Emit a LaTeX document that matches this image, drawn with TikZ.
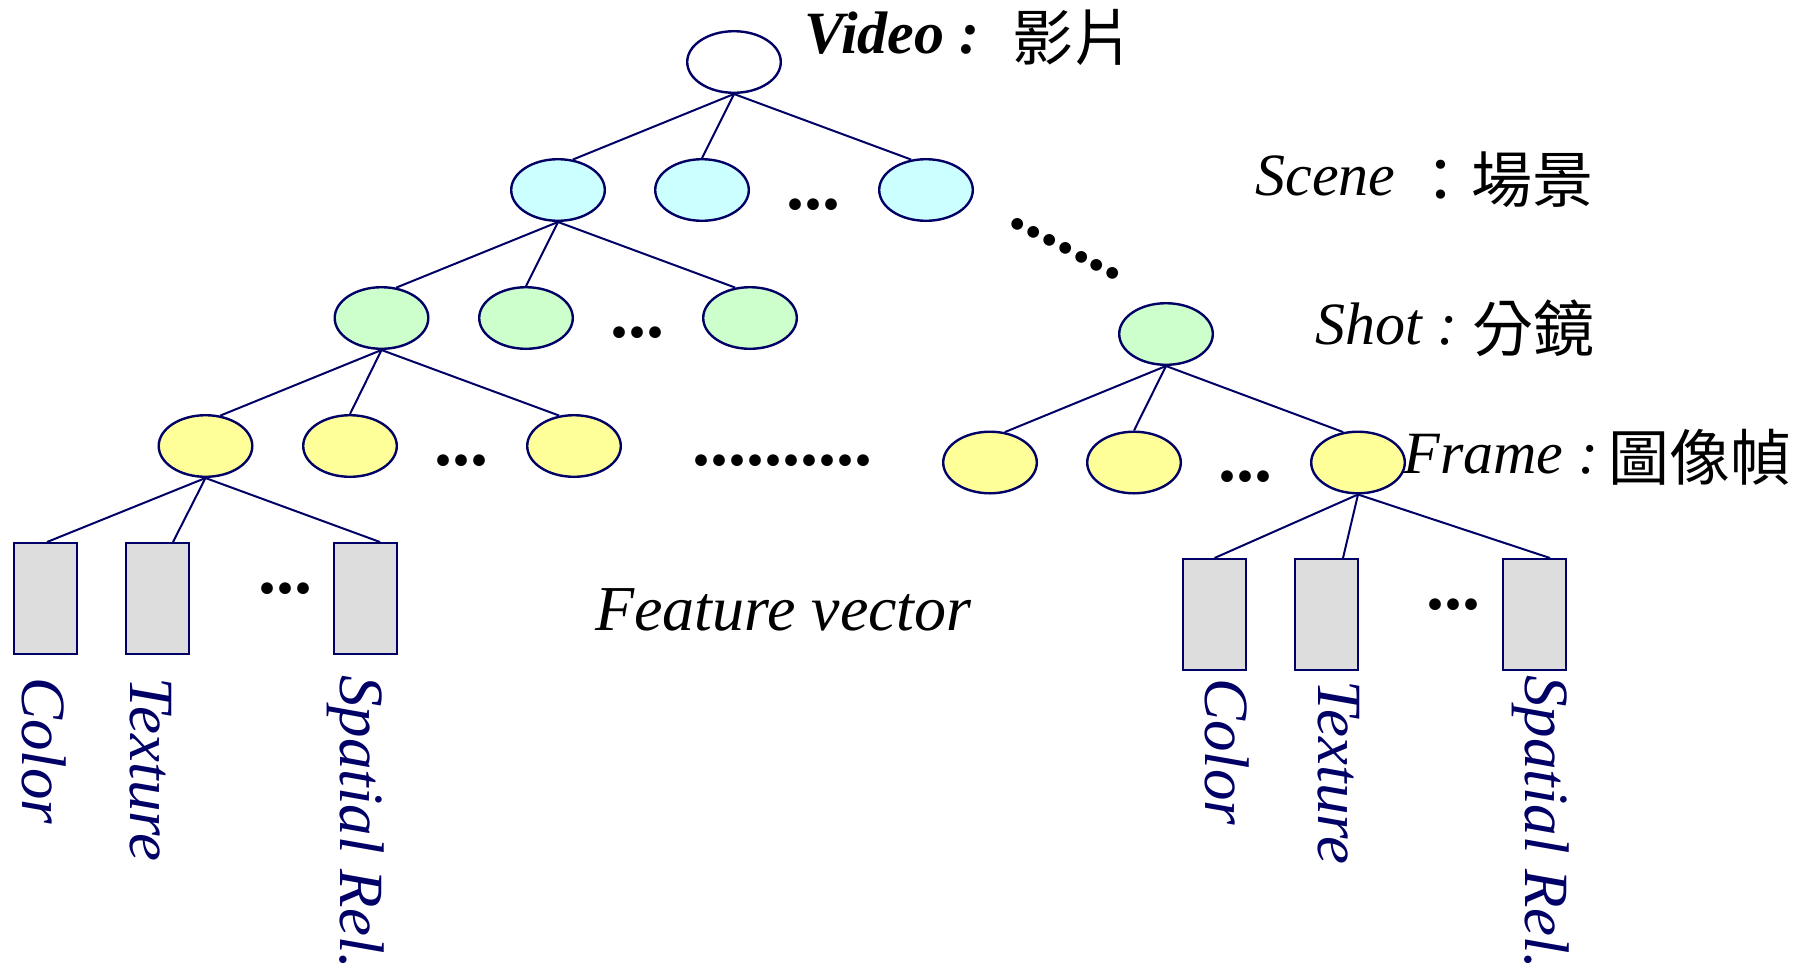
\documentclass[tikz,border=0pt]{standalone}
\usepackage{fontspec}
\setmainfont{Liberation Serif}
\newfontfamily\cjkfont{Noto Sans CJK TC}
\newcommand{\cjktext}[1]{\raisebox{-3.5pt}{\cjkfont\fontsize{30.5}{36}\selectfont #1}}
\usetikzlibrary{shapes.geometric}
\definecolor{lnavy}{RGB}{0,0,102}
\definecolor{scenec}{RGB}{204,255,255}
\definecolor{shotc}{RGB}{204,255,204}
\definecolor{framec}{RGB}{255,255,153}
\definecolor{boxc}{RGB}{221,221,221}
\begin{document}
\begin{tikzpicture}[x=0.5pt,y=-0.5pt,
  ell/.style={ellipse, draw=lnavy, line width=1.2pt, minimum width=46.8pt, minimum height=30.8pt, inner sep=0pt},
  fbox/.style={rectangle, draw=lnavy, line width=1pt, fill=boxc, minimum width=31.5pt, minimum height=55.5pt, inner sep=0pt},
  edge/.style={draw=lnavy, line width=1pt},
  lbl/.style={anchor=base west, inner sep=0pt, font=\fontsize{30}{36}\selectfont},
  rlbl/.style={rotate=-90, anchor=base west, inner sep=0pt, text=lnavy, font=\fontsize{31.5}{36}\selectfont\itshape},
  dots/.style={anchor=base, inner sep=0pt, font=\fontsize{36}{36}\selectfont\bfseries}
]
\useasboundingbox (0,0) rectangle (1807,970);

% ellipses
\node[ell, fill=white] (v) at (734,62) {};
\node[ell, fill=scenec] (s1) at (558,190) {};
\node[ell, fill=scenec] (s2) at (702,190) {};
\node[ell, fill=scenec] (s3) at (926,190) {};
\node[ell, fill=shotc] (h1) at (381.5,318) {};
\node[ell, fill=shotc] (h2) at (526,318) {};
\node[ell, fill=shotc] (h3) at (750,318) {};
\node[ell, fill=shotc] (h4) at (1166,334) {};
\node[ell, fill=framec] (f1) at (205.5,446) {};
\node[ell, fill=framec] (f2) at (350,446) {};
\node[ell, fill=framec] (f3) at (574,446) {};
\node[ell, fill=framec] (g1) at (990,462.5) {};
\node[ell, fill=framec] (g2) at (1134,462.5) {};
\node[ell, fill=framec] (g3) at (1358,462.5) {};

% feature boxes
\node[fbox] (b1) at (45.5,598.5) {};
\node[fbox] (b2) at (157.5,598.5) {};
\node[fbox] (b3) at (365.5,598.5) {};
\node[fbox] (c1) at (1214.5,614.5) {};
\node[fbox] (c2) at (1326,614.5) {};
\node[fbox] (c3) at (1534.5,614.5) {};

% connectors
\draw[edge] (v.south) -- (s1.64);
\draw[edge] (v.south) -- (s2.north);
\draw[edge] (v.south) -- (s3.116);
\draw[edge] (s1.south) -- (h1.64);
\draw[edge] (s1.south) -- (h2.north);
\draw[edge] (s1.south) -- (h3.116);
\draw[edge] (h1.south) -- (f1.64);
\draw[edge] (h1.south) -- (f2.north);
\draw[edge] (h1.south) -- (f3.116);
\draw[edge] (h4.south) -- (g1.64);
\draw[edge] (h4.south) -- (g2.north);
\draw[edge] (h4.south) -- (g3.116);
\draw[edge] (f1.south) -- ([xshift=0.75pt]b1.north);
\draw[edge] (f1.south) -- ([xshift=7.75pt]b2.north);
\draw[edge] (f1.south) -- ([xshift=7.25pt]b3.north);
\draw[edge] (g3.south) -- (c1.north);
\draw[edge] (g3.south) -- ([xshift=8.5pt]c2.north);
\draw[edge] (g3.south) -- ([xshift=7.75pt]c3.north);

% dots
\node[dots] (d1) at (813,209) {...};
\node[dots] (d2) at (637,337) {...};
\node[dots] (d3) at (461,465) {...};
\node[dots] (d4) at (1245,481) {...};
\node[dots] (d5) at (285,593) {...};
\node[dots] (d6) at (1453,609) {...};
\node[dots] (d7) at (782,465) {..........};
\node[dots, rotate=-27.4] (d8) at (1063,253) {.......};

% labels
\node[lbl] (tv) at (804,53) {{\bfseries\itshape Video :}\kern9pt\ \cjktext{影片}};
\node[lbl] (ts) at (1255,195) {\itshape Scene \cjktext{：場景}};
\node[lbl] (th) at (1315,344) {\itshape Shot :\kern7.5pt\cjktext{分鏡}};
\node[lbl] (tf) at (1403,473) {\itshape Frame :\kern5pt\cjktext{圖像幀}};
\node[lbl, font=\fontsize{32}{36}\selectfont\itshape] (tfv) at (595,630) {Feature vector};

\node[rlbl] (l1) at (22,677) {Color};
\node[rlbl] (l2) at (130,677) {Texture};
\node[rlbl] (l3) at (340,675) {Spatial Rel.};
\node[rlbl] (r1) at (1205,678) {Color};
\node[rlbl] (r2) at (1318,680) {Texture};
\node[rlbl] (r3) at (1525,675) {Spatial Rel.};
\end{tikzpicture}
\end{document}
